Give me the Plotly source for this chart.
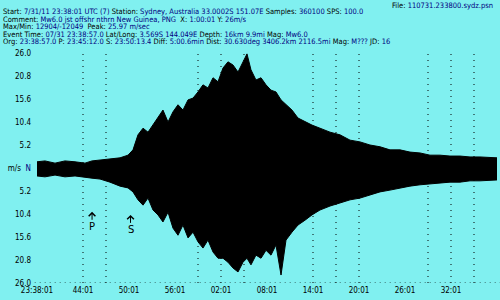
import plotly.graph_objects as go

# ---------------- data ----------------
x_tick_vals = [0, 6, 12, 18, 24, 30, 36, 42, 48, 54]
x_tick_text = ["23:38:01", "44:01", "50:01", "56:01", "02:01", "08:01", "14:01", "20:01", "26:01", "32:01"]
y_tick_vals = [26, 20.8, 15.6, 10.4, 5.2, 0, -5.2, -10.4, -15.6, -20.8, -26]
y_tick_text = ["26.0", "20.8", "15.6", "10.4", "5.2", "m/s  <span style='color:#000080'>N</span>",
               "5.2", "10.4", "15.6", "20.8", "26.0"]
grid_minutes = [6, 9, 21, 24, 27, 36, 39, 42, 51, 54, 57]

# minutes after 23:38:01 and the trace envelope (m/s)
t_min = [0, 1.04, 2.35, 3.65, 4.96, 6.26, 7.17, 8.22, 9.52, 10.83, 11.87, 12.52, 13.17, 13.83, 14.48,
         15.13, 15.78, 16.43, 17.09, 17.74, 18.39, 19.04, 19.7, 20.35, 21.0, 21.65, 22.3, 22.96, 23.61,
         24.26, 24.91, 25.56, 26.22, 26.87, 27.39, 27.91, 28.56, 29.22, 29.87, 30.52, 31.17, 31.83,
         32.48, 33.26, 34.04, 34.96, 35.87, 36.91, 38.22, 39.52, 40.83, 42.13, 43.43, 44.74, 46.04,
         47.35, 48.65, 49.96, 51.26, 52.56, 53.87, 55.17, 56.48, 57.78, 59.09, 60]
upper = [1.4, 1.6, 1.1, 1.6, 1.4, 1.1, 1.6, 1.8, 2.0, 2.3, 2.9, 4.1, 7.5, 9.0, 8.1,
         9.7, 11.3, 13.1, 10.4, 12.7, 14.3, 13.1, 15.4, 15.8, 17.2, 18.8, 18.1, 20.4, 19.5,
         22.6, 24.0, 23.3, 21.7, 24.0, 25.8, 22.2, 19.9, 20.4, 18.8, 17.6, 17.2, 15.4,
         14.3, 13.1, 11.3, 10.4, 9.7, 9.0, 8.1, 7.5, 6.3, 5.9, 5.2, 4.8, 4.1,
         4.1, 3.6, 3.4, 2.9, 2.9, 2.7, 2.7, 2.5, 2.5, 2.3, 2.3]
lower = [-1.8, -2.0, -1.6, -2.0, -1.8, -2.0, -2.3, -2.5, -3.2, -4.1, -4.5, -5.4, -7.2, -8.4, -6.8,
         -9.5, -10.6, -12.2, -10.0, -13.6, -15.2, -12.9, -15.8, -14.5, -16.7, -18.1, -16.3, -19.0, -20.4,
         -20.4, -21.3, -22.6, -23.5, -21.3, -20.4, -21.9, -19.7, -20.4, -18.6, -19.7, -17.4, -24.2,
         -16.3, -14.5, -12.9, -11.8, -10.6, -9.5, -8.6, -7.9, -7.2, -6.8, -6.1, -5.4, -5.0,
         -4.5, -4.1, -3.8, -3.6, -3.4, -3.2, -3.2, -2.9, -2.9, -2.7, -2.7]

phase_names = ["P", "S"]
phase_minutes = [7.18, 12.2]
phase_tip = [-9.9, -10.6]

NAVY = "#000080"
header_lines = [
    [("Start: ", "black"), ("7/31/11 23:38:01 UTC (7) ", NAVY), ("Station: ", "black"),
     ("Sydney, Australia 33.0002S 151.07E ", NAVY), ("Samples: ", "black"), ("360100 ", NAVY),
     ("SPS: ", "black"), ("100.0", NAVY)],
    [("Comment: ", "black"), ("Mw6.0 jst offshr nthrn New Guinea, PNG  ", NAVY), ("X: ", "black"),
     ("1:00:01 ", NAVY), ("Y: ", "black"), ("26m/s", NAVY)],
    [("Max/Min: ", "black"), ("12904/-12049  ", NAVY), ("Peak: ", "black"), ("25.97 m/sec", NAVY)],
    [("Event Time: ", "black"), ("07/31 23:38:57.0 ", NAVY), ("Lat/Long: ", "black"),
     ("3.569S 144.049E ", NAVY), ("Depth: ", "black"), ("16km 9.9mi ", NAVY), ("Mag: ", "black"),
     ("Mw6.0", NAVY)],
    [("Org: ", "black"), ("23:38:57.0 ", NAVY), ("P: ", "black"), ("23:45:12.0 ", NAVY), ("S: ", "black"),
     ("23:50:13.4 ", NAVY), ("Diff: ", "black"), ("5:00.6min ", NAVY), ("Dist: ", "black"),
     ("30.630deg 3406.2km 2116.5mi ", NAVY), ("Mag: ", "black"), ("M??? ", NAVY), ("JD: ", "black"),
     ("16", NAVY)],
]
file_line = [("File: ", "black"), ("110731.233800.sydz.psn", NAVY)]

# ---------------- layout helpers ----------------
W, H = 500, 300
L, R, T, B = 37, 3, 53, 17
BG = "#80F0F0"
FONT = "Liberation Sans Narrow, DejaVu Sans Condensed, Arial Narrow, sans-serif"


def px_to_paper(px, py):
    return (px - L) / (W - L - R), (H - B - py) / (H - T - B)


def rich(segs):
    return "".join(f"<span style='color:{c}'>{t.replace(' ', '&nbsp;')}</span>" for t, c in segs)


fig = go.Figure()
fig.add_trace(go.Scatter(x=t_min, y=lower, mode="lines", line=dict(color="black", width=1),
                         hoverinfo="skip", showlegend=False))
fig.add_trace(go.Scatter(x=t_min, y=upper, mode="lines", line=dict(color="black", width=1),
                         fill="tonexty", fillcolor="black", hoverinfo="skip", showlegend=False))

shapes = []
for g in grid_minutes:
    shapes.append(dict(type="line", xref="x", yref="y", x0=g, x1=g, y0=-26, y1=26,
                       line=dict(color="black", width=1, dash="1px,5px"), layer="below"))
shapes.append(dict(type="line", xref="paper", yref="y", x0=-0.005, x1=1.01, y0=-26, y1=-26,
                   line=dict(color="black", width=1, dash="1px,4px"), layer="below"))

annotations = []
line_y = [12, 19.5, 27, 34, 41]
for segs, yy in zip(header_lines, line_y):
    ax_, ay_ = px_to_paper(1, yy)
    annotations.append(dict(xref="paper", yref="paper", x=ax_, y=ay_, xanchor="left", yanchor="middle",
                            text=rich(segs), showarrow=False, font=dict(family=FONT, size=7.5, color="black")))
ax_, ay_ = px_to_paper(495, 5)
annotations.append(dict(xref="paper", yref="paper", x=ax_, y=ay_, xanchor="right", yanchor="middle",
                        text=rich(file_line), showarrow=False, font=dict(family=FONT, size=7.5, color="black")))
for name, tm, tip in zip(phase_names, phase_minutes, phase_tip):
    annotations.append(dict(x=tm, y=tip, xref="x", yref="y", text=name,
                            showarrow=True, ax=0, ay=15, arrowhead=4, arrowsize=1.3, arrowwidth=1,
                            arrowcolor="black", font=dict(family="DejaVu Sans", size=10, color="black")))

fig.update_layout(
    width=W, height=H, margin=dict(l=L, r=R, t=T, b=B),
    paper_bgcolor=BG, plot_bgcolor=BG,
    font=dict(family=FONT, size=8, color="black"),
    xaxis=dict(range=[0, 60], tickvals=x_tick_vals, ticktext=x_tick_text, showgrid=False,
               zeroline=False, showline=False, ticks="", ticklabelstandoff=1),
    yaxis=dict(range=[-26, 26], tickvals=y_tick_vals, ticktext=y_tick_text, showgrid=False,
               zeroline=False, showline=False, ticks="", ticklabelstandoff=5),
    shapes=shapes, annotations=annotations,
)
fig.write_html("out.html")
